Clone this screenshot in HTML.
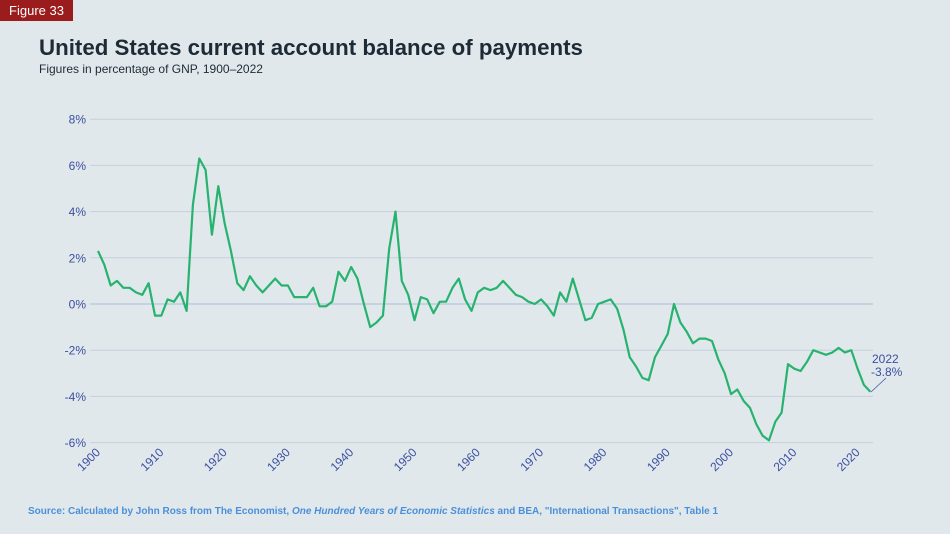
<!DOCTYPE html>
<html><head><meta charset="utf-8"><style>
html,body{margin:0;padding:0}
body{width:950px;height:534px;background:#e1e8ec;font-family:"Liberation Sans",sans-serif;position:relative;overflow:hidden}
.tag{position:absolute;left:0;top:0;width:73px;height:21px;background:#9b1c1c;color:#fff;font-size:13px;line-height:21px;text-align:center}
.t{position:absolute;left:39px;top:35px;font-size:22.3px;font-weight:bold;color:#1d2b36}
.s{position:absolute;left:39px;top:62px;font-size:12px;color:#1d2b36}
.src{position:absolute;left:28px;top:506px;font-size:10px;font-weight:bold;color:#4a90d9}
svg{position:absolute;left:0;top:0}
</style></head><body>
<div class="tag">Figure 33</div>
<div class="t">United States current account balance of payments</div>
<div class="s">Figures in percentage of GNP, 1900–2022</div>
<svg id="c" width="950" height="534" font-family="Liberation Sans, sans-serif"></svg>
<div class="src">Source: Calculated by John Ross from The Economist, <i>One Hundred Years of Economic Statistics</i> and BEA, "International Transactions", Table 1</div>
<script>
var v=[2.3,1.7,0.8,1.0,0.7,0.7,0.5,0.4,0.9,-0.5,-0.5,0.2,0.1,0.5,-0.3,4.3,6.3,5.8,3.0,5.1,3.5,2.3,0.9,0.6,1.2,0.8,0.5,0.8,1.1,0.8,0.8,0.3,0.3,0.3,0.7,-0.1,-0.1,0.1,1.4,1.0,1.6,1.1,0.0,-1.0,-0.8,-0.5,2.4,4.0,1.0,0.4,-0.7,0.3,0.2,-0.4,0.1,0.1,0.7,1.1,0.2,-0.3,0.5,0.7,0.6,0.7,1.0,0.7,0.4,0.3,0.1,0.0,0.2,-0.1,-0.5,0.5,0.1,1.1,0.2,-0.7,-0.6,0.0,0.1,0.2,-0.2,-1.1,-2.3,-2.7,-3.2,-3.3,-2.3,-1.8,-1.3,0.0,-0.8,-1.2,-1.7,-1.5,-1.5,-1.6,-2.4,-3.0,-3.9,-3.7,-4.2,-4.5,-5.2,-5.7,-5.9,-5.1,-4.7,-2.6,-2.8,-2.9,-2.5,-2.0,-2.1,-2.2,-2.1,-1.9,-2.1,-2.0,-2.8,-3.5,-3.8];
function X(i){return 98+i*6.33}function Y(p){return 304-p*23.1}
var s='';
for(var p=8;p>=-6;p-=2){var y=Y(p);s+='<line x1="90" x2="873" y1="'+y+'" y2="'+y+'" stroke="'+(p==0?'#a9bcd6':'#c3d0db')+'" stroke-width="1"/>';
s+='<text x="86" y="'+(y+4.5)+'" text-anchor="end" font-size="12" fill="#3b4fa0">'+p+'%</text>';}
for(var yr=1900;yr<=2020;yr+=10){var x=X(yr-1900);s+='<text transform="translate('+(x+3)+',453) rotate(-45)" text-anchor="end" font-size="12" fill="#3b4fa0">'+yr+'</text>';}
var pts=v.map(function(d,i){return X(i).toFixed(1)+','+Y(d).toFixed(1)}).join(' ');
s+='<polyline points="'+pts+'" fill="none" stroke="#27b36f" stroke-width="2.2" stroke-linejoin="round"/>';
s+='<line x1="871" y1="392" x2="886" y2="378" stroke="#3b4fa0" stroke-width="0.7"/>';
s+='<text x="872" y="363" font-size="12" fill="#3b4fa0">2022</text><text x="871" y="376" font-size="12" fill="#3b4fa0">-3.8%</text>';
document.getElementById('c').innerHTML=s;
</script>
</body></html>
